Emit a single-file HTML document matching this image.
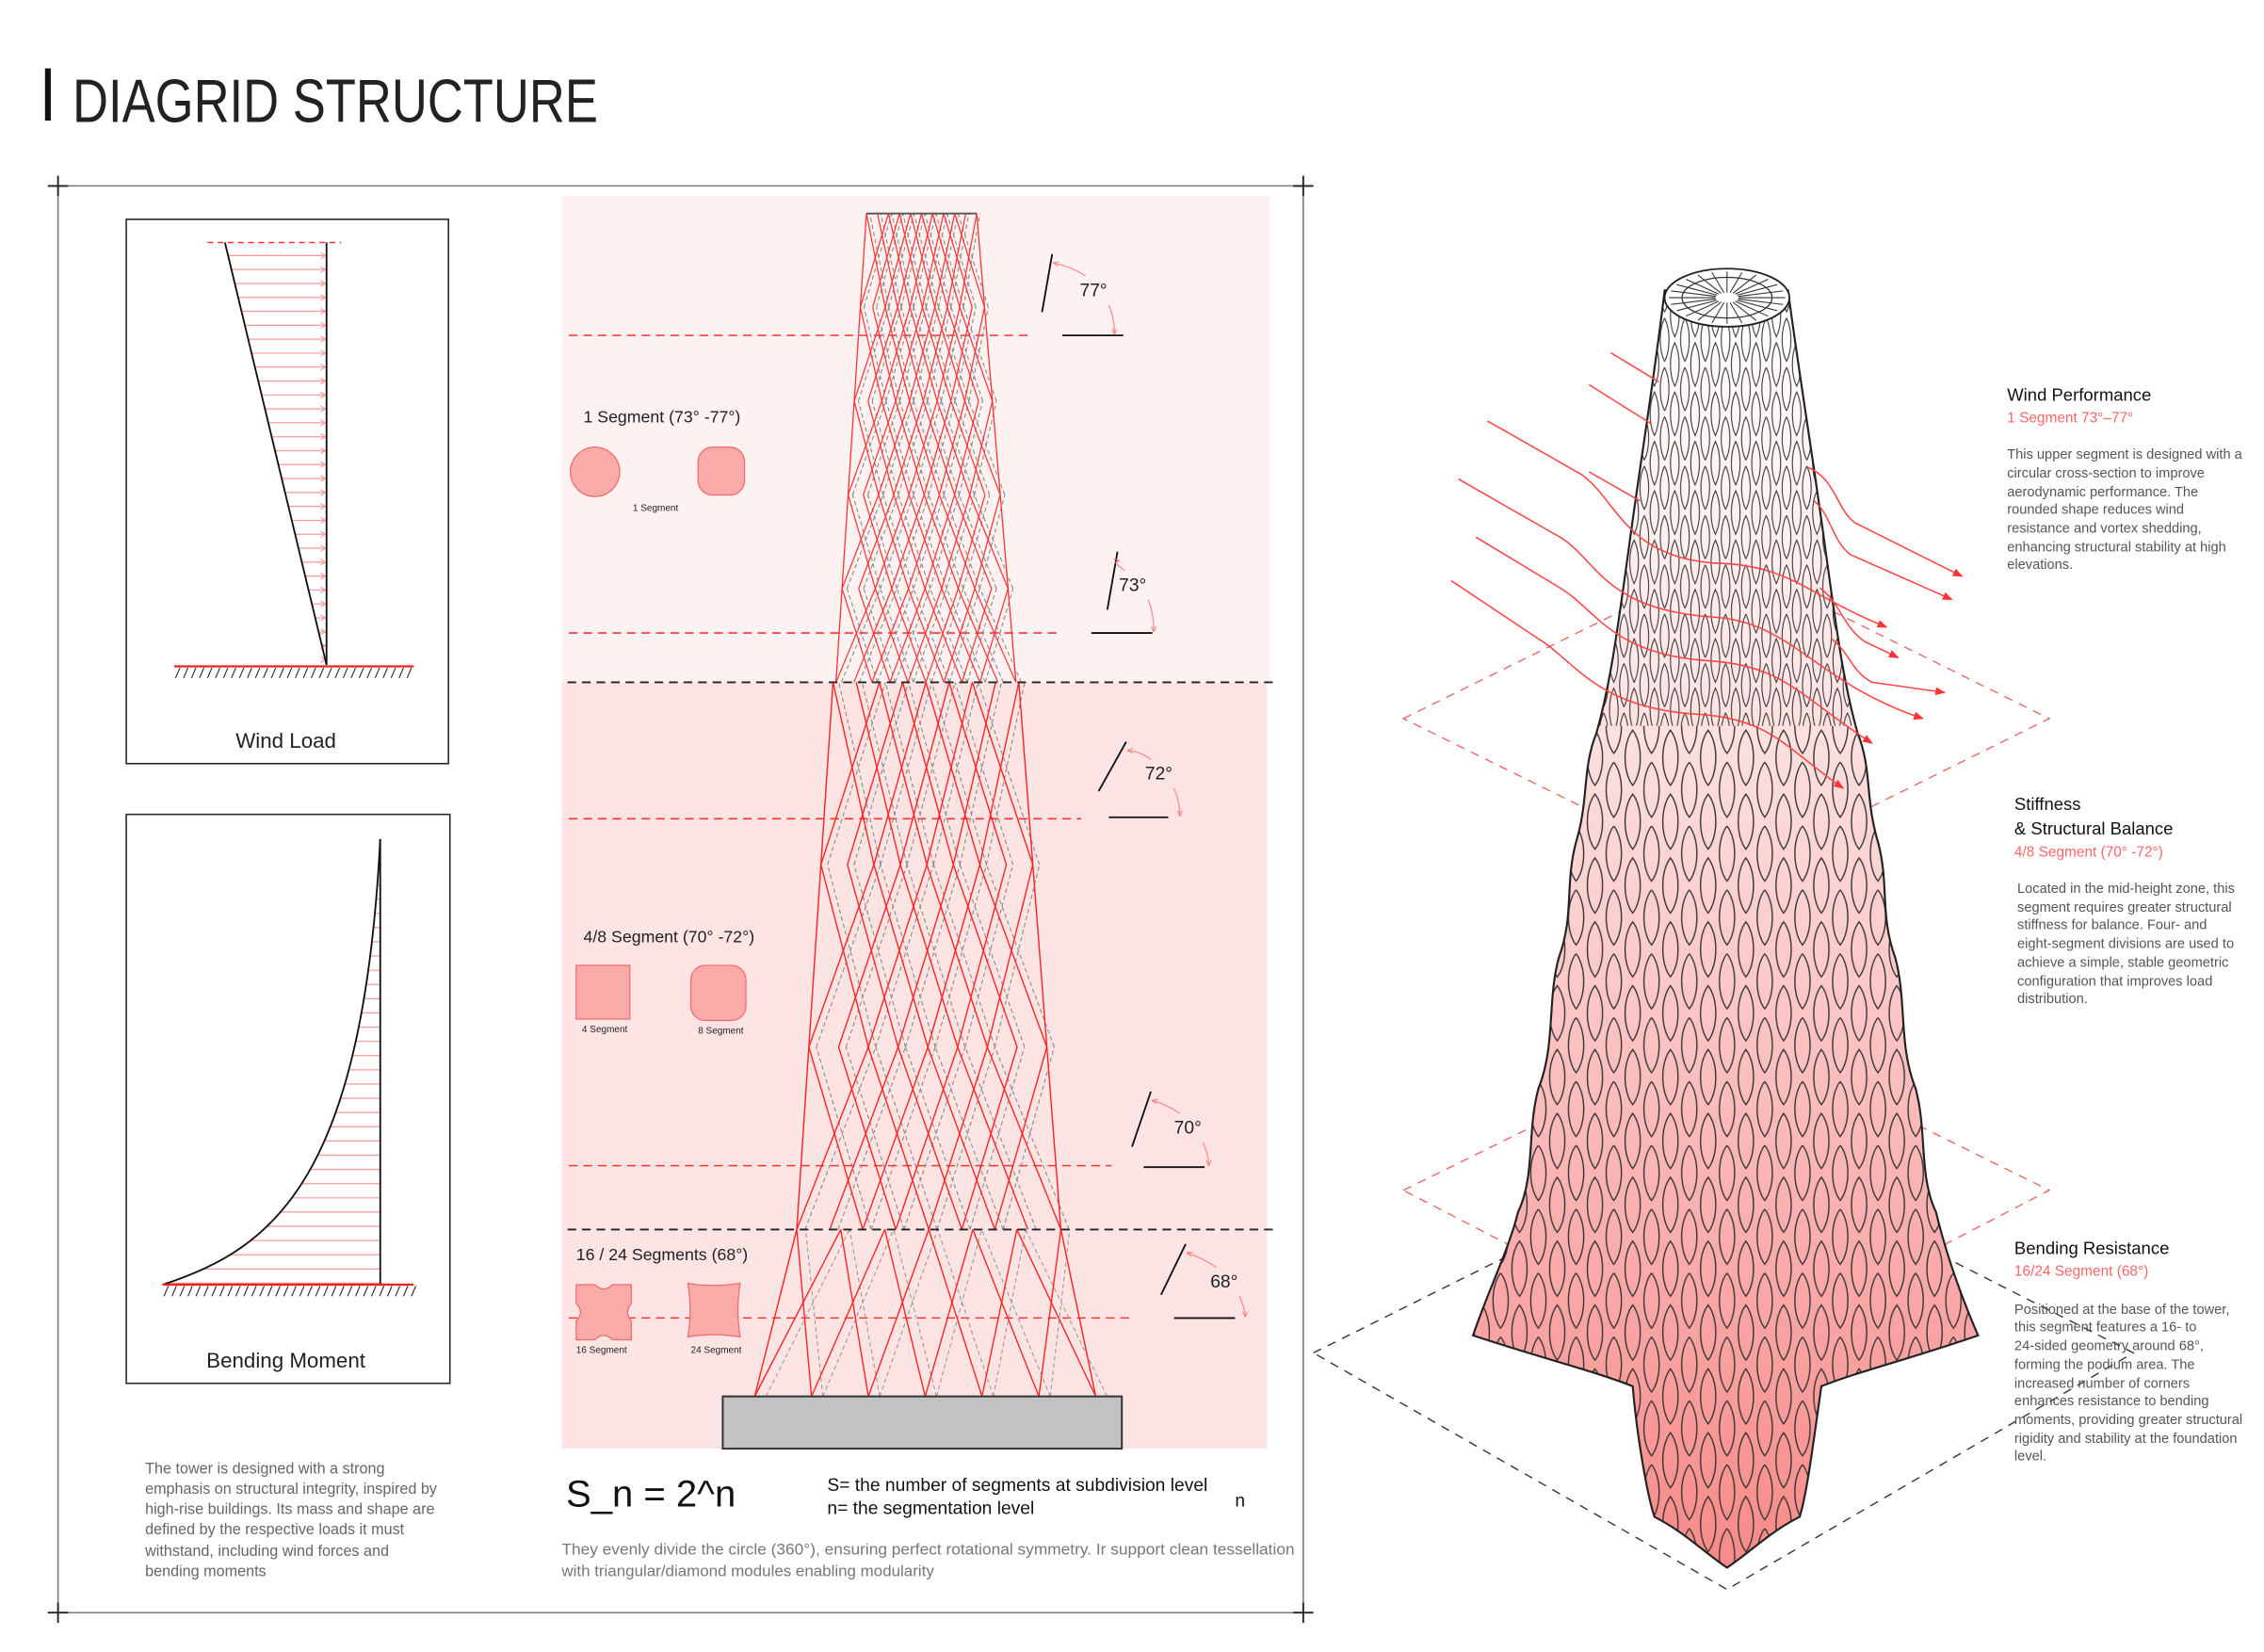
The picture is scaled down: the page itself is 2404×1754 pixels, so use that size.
<!DOCTYPE html>
<html><head><meta charset="utf-8"><style>
html,body{margin:0;padding:0;background:#fff;}
svg{display:block;}
text{font-family:"Liberation Sans",sans-serif;}
.n{font-family:"Liberation Sans Narrow","Liberation Sans",sans-serif;}
</style></head><body>
<svg id="s" width="2404" height="1754" viewBox="0 0 1560 1138" xmlns="http://www.w3.org/2000/svg">
<defs>
<marker id="ar" viewBox="0 0 10 10" refX="9" refY="5" markerWidth="7" markerHeight="7" orient="auto"><path d="M0,1 L10,5 L0,9 Z" fill="#f33"/></marker>
<marker id="pa" viewBox="0 0 10 10" refX="9" refY="5" markerWidth="5" markerHeight="5" orient="auto"><path d="M0,1 L10,5 L0,9" fill="none" stroke="#f77" stroke-width="1.5"/></marker>
<linearGradient id="tg" x1="0" y1="0" x2="0" y2="1">
<stop offset="0" stop-color="#ffffff"/><stop offset="0.3" stop-color="#fde6e6"/><stop offset="0.65" stop-color="#fbbaba"/><stop offset="1" stop-color="#f78a88"/></linearGradient>
<pattern id="lat1" patternUnits="userSpaceOnUse" width="14" height="34" x="1147" y="200">
<path d="M7,2 C11,10 11,24 7,32 C3,24 3,10 7,2Z M0,-15 C4,-7 4,7 0,15 M14,-15 C10,-7 10,7 14,15 M0,19 C4,27 4,41 0,49 M14,19 C10,27 10,41 14,49" fill="none" stroke="#333" stroke-width="0.7"/></pattern>
<pattern id="lat2" patternUnits="userSpaceOnUse" width="26" height="44" x="1060" y="500">
<path d="M13,3 C20,12 20,32 13,41 C6,32 6,12 13,3Z M0,-19 C7,-10 7,10 0,19 C-7,10 -7,-10 0,-19Z M26,-19 C33,-10 33,10 26,19 C19,10 19,-10 26,-19Z M0,25 C7,34 7,54 0,63 M26,25 C19,34 19,54 26,63" fill="none" stroke="#333" stroke-width="0.9"/></pattern>
<clipPath id="tc"><path id="tp" d="M1147,200 C1140,260 1130,320 1122,380 C1115,430 1110,470 1100,505 C1090,530 1095,550 1086,580 C1078,610 1085,630 1074,660 C1066,690 1072,720 1060,750 C1052,780 1058,810 1046,835 C1040,860 1025,890 1015,920 C1060,935 1100,945 1125,955 C1128,990 1135,1030 1140,1045 C1160,1055 1175,1070 1190,1080 C1205,1070 1220,1055 1240,1045 C1245,1030 1250,990 1255,955 C1280,945 1320,935 1363,920 C1350,890 1340,860 1334,835 C1322,810 1328,780 1320,750 C1308,720 1314,690 1306,660 C1295,630 1302,610 1294,580 C1285,550 1290,530 1280,505 C1270,470 1265,430 1258,380 C1250,320 1240,260 1232,200 Z"/></clipPath>
</defs>

<rect x="31" y="47" width="4" height="36" fill="#111"/>
<text x="50" y="84" font-size="42" fill="#222" class="n" textLength="362" lengthAdjust="spacingAndGlyphs">DIAGRID STRUCTURE</text>

<g stroke="#777" stroke-width="1" fill="none">
<line x1="33" y1="128" x2="905" y2="128"/><line x1="33" y1="1111" x2="905" y2="1111"/>
<line x1="40" y1="121" x2="40" y2="1118"/><line x1="898" y1="121" x2="898" y2="1118"/>
</g>
<g stroke="#222" stroke-width="1.2"><line x1="40" y1="121" x2="40" y2="135"/><line x1="33" y1="128" x2="47" y2="128"/><line x1="898" y1="121" x2="898" y2="135"/><line x1="891" y1="128" x2="905" y2="128"/><line x1="40" y1="1104" x2="40" y2="1118"/><line x1="33" y1="1111" x2="47" y2="1111"/><line x1="898" y1="1104" x2="898" y2="1118"/><line x1="891" y1="1111" x2="905" y2="1111"/></g>

<rect x="87" y="151" width="222" height="375" fill="none" stroke="#222" stroke-width="1"/>
<line x1="143" y1="167" x2="235" y2="167" stroke="#f33" stroke-dasharray="4,3"/>
<g id="wl" stroke="#f99" stroke-width="0.8"></g>
<line x1="155" y1="167" x2="225" y2="458" stroke="#111" stroke-width="1.2"/>
<line x1="225" y1="167" x2="225" y2="458" stroke="#111" stroke-width="1.2"/>
<line x1="120" y1="459" x2="285" y2="459" stroke="#e22" stroke-width="1.5"/>
<g id="h1" stroke="#222" stroke-width="0.7"></g>
<text x="197" y="515" font-size="14.5" text-anchor="middle" fill="#222">Wind Load</text>

<rect x="87" y="561" width="223" height="392" fill="none" stroke="#222" stroke-width="1"/>
<g id="bm" stroke="#f99" stroke-width="0.8"></g>
<path d="M112,885 C190,860 250,810 262,578" fill="none" stroke="#111" stroke-width="1.2"/>
<line x1="262" y1="578" x2="262" y2="885" stroke="#111" stroke-width="1.2"/>
<line x1="112" y1="885" x2="285" y2="885" stroke="#e22" stroke-width="1.5"/>
<g id="h2" stroke="#222" stroke-width="0.7"></g>
<text x="197" y="942" font-size="14.5" text-anchor="middle" fill="#222">Bending Moment</text>

<g font-size="10.5" fill="#666" class="n">
<text x="100" y="1015">The tower is designed with a strong</text>
<text x="100" y="1029">emphasis on structural integrity, inspired by</text>
<text x="100" y="1043">high-rise buildings. Its mass and shape are</text>
<text x="100" y="1057">defined by the respective loads it must</text>
<text x="100" y="1072">withstand, including wind forces and</text>
<text x="100" y="1086">bending moments</text>
</g>

<rect x="387" y="135" width="488" height="335" fill="#fdf1f1"/>
<rect x="387" y="470" width="486" height="528" fill="#fde4e4"/>
<g stroke="#f33" stroke-width="1" stroke-dasharray="6,4">
<line x1="392" y1="231" x2="712" y2="231"/><line x1="392" y1="436" x2="730" y2="436"/>
<line x1="392" y1="564" x2="745" y2="564"/><line x1="392" y1="803" x2="766" y2="803"/>
<line x1="392" y1="908" x2="780" y2="908"/>
</g>
<g id="grid" fill="none"></g>
<g stroke="#222" stroke-width="1.2" stroke-dasharray="6,4">
<line x1="391" y1="470" x2="880" y2="470"/><line x1="391" y1="847" x2="880" y2="847"/>
</g>
<rect x="498" y="962" width="275" height="36" fill="#c2c2c2" stroke="#333" stroke-width="1.3"/>

<g id="ang"></g>

<g fill="#222">
<text x="402" y="291" font-size="11.5">1 Segment (73° -77°)</text>
<text x="402" y="649" font-size="11.5">4/8 Segment (70° -72°)</text>
<text x="397" y="868" font-size="11.5">16 / 24 Segments (68°)</text>
<text x="436" y="352" font-size="6.5">1 Segment</text>
<text x="401" y="711" font-size="6.5">4 Segment</text>
<text x="481" y="712" font-size="6.5">8 Segment</text>
<text x="397" y="932" font-size="6.5">16 Segment</text>
<text x="476" y="932" font-size="6.5">24 Segment</text>
</g>
<g fill="#fbaaaa" stroke="#f06a6a" stroke-width="0.8">
<ellipse cx="410" cy="325" rx="17" ry="17"/>
<rect x="481" y="308" width="32" height="33" rx="10"/>
<rect x="397" y="665" width="37" height="37"/>
<rect x="476" y="665" width="38" height="38" rx="10"/>
<path d="M397,885 L410,885 Q416,891 422,885 L435,885 L435,898 Q430,904 435,910 L435,923 L422,923 Q416,917 410,923 L397,923 L397,910 Q403,904 397,898 Z"/>
<path d="M474,884 Q490,887 510,884 Q507,903 510,921 Q492,918 474,921 Q477,903 474,884 Z"/>
</g>

<text x="390" y="1038" font-size="26" fill="#111" class="n">S_n = 2^n</text>
<g font-size="12.5" fill="#111" class="n">
<text x="570" y="1027">S= the number of segments at subdivision level</text>
<text x="570" y="1043">n= the segmentation level</text>
<text x="851" y="1038">n</text>
</g>
<g font-size="11" fill="#777" class="n">
<text x="387" y="1071" textLength="505" lengthAdjust="spacingAndGlyphs">They evenly divide the circle (360°), ensuring perfect rotational symmetry. Ir support clean tessellation</text>
<text x="387" y="1086">with triangular/diamond modules enabling modularity</text>
</g>

<g fill="none" stroke-width="0.9" stroke-dasharray="6,5">
<path d="M905,932 L1190,790 L1470,932 L1190,1095 Z" stroke="#333"/>
<path d="M967,820 L1190,710 L1412,820 L1190,935 Z" stroke="#e66"/>
<path d="M967,495 L1190,385 L1412,495 L1190,605 Z" stroke="#e66"/>
</g>

<use href="#tp" fill="url(#tg)"/>
<g clip-path="url(#tc)">
<rect x="1000" y="200" width="400" height="300" fill="url(#lat1)"/>
<rect x="1000" y="500" width="400" height="600" fill="url(#lat2)"/>
</g>
<use href="#tp" fill="none" stroke="#222" stroke-width="1.4"/>
<ellipse cx="1190" cy="205" rx="43" ry="20" fill="#fff" stroke="#222" stroke-width="1.2"/>
<g id="cap" stroke="#333" stroke-width="0.7" fill="none"></g>
<ellipse cx="1190" cy="205" rx="31" ry="14" fill="none" stroke="#333" stroke-width="0.8"/>

<g fill="none" stroke="#f44" stroke-width="1">
<path d="M1110,243 L1143,263"/><path d="M1095,265 L1138,292"/><path d="M1095,325 L1130,345"/>
<path d="M1025,290 L1090,327 C1115,345 1120,385 1185,388 C1235,390 1245,410 1300,432" marker-end="url(#ar)"/>
<path d="M1005,330 L1075,370 C1100,385 1105,420 1180,425 C1235,428 1250,470 1325,495" marker-end="url(#ar)"/>
<path d="M1017,370 L1075,405 C1100,420 1110,450 1175,455 C1230,458 1240,480 1290,512" marker-end="url(#ar)"/>
<path d="M1000,400 L1060,440 C1085,455 1100,488 1170,492 C1220,495 1230,515 1270,543" marker-end="url(#ar)"/>
<path d="M1246,322 C1265,330 1265,350 1278,360 L1352,397" marker-end="url(#ar)"/>
<path d="M1250,345 C1262,355 1262,372 1275,382 L1345,413" marker-end="url(#ar)"/>
<path d="M1254,405 C1268,415 1270,432 1285,442 L1308,453" marker-end="url(#ar)"/>
<path d="M1262,440 C1275,450 1275,462 1290,470 L1340,477" marker-end="url(#ar)"/>
</g>

<g font-size="9.5" fill="#555">
<text x="1383" y="276" font-size="12" fill="#111">Wind Performance</text>
<text x="1383" y="291" font-size="10" fill="#f66">1 Segment 73°–77°</text>
<text x="1383" y="316">This upper segment is designed with a</text>
<text x="1383" y="329">circular cross-section to improve</text>
<text x="1383" y="342">aerodynamic performance. The</text>
<text x="1383" y="354">rounded shape reduces wind</text>
<text x="1383" y="367">resistance and vortex shedding,</text>
<text x="1383" y="380">enhancing structural stability at high</text>
<text x="1383" y="392">elevations.</text>
<text x="1388" y="558" font-size="12" fill="#111">Stiffness</text>
<text x="1388" y="575" font-size="12" fill="#111">&amp; Structural Balance</text>
<text x="1388" y="590" font-size="10" fill="#f66">4/8 Segment (70° -72°)</text>
<text x="1390" y="615">Located in the mid-height zone, this</text>
<text x="1390" y="628">segment requires greater structural</text>
<text x="1390" y="640">stiffness for balance. Four- and</text>
<text x="1390" y="653">eight-segment divisions are used to</text>
<text x="1390" y="666">achieve a simple, stable geometric</text>
<text x="1390" y="679">configuration that improves load</text>
<text x="1390" y="691">distribution.</text>
<text x="1388" y="864" font-size="12" fill="#111">Bending Resistance</text>
<text x="1388" y="879" font-size="10" fill="#f66">16/24 Segment (68°)</text>
<text x="1388" y="905">Positioned at the base of the tower,</text>
<text x="1388" y="917">this segment features a 16- to</text>
<text x="1388" y="930">24-sided geometry around 68°,</text>
<text x="1388" y="943">forming the podium area. The</text>
<text x="1388" y="956">increased number of corners</text>
<text x="1388" y="968">enhances resistance to bending</text>
<text x="1388" y="981">moments, providing greater structural</text>
<text x="1388" y="994">rigidity and stability at the foundation</text>
<text x="1388" y="1006">level.</text>
</g>
</svg>
<script>
(function(){
var NS="http://www.w3.org/2000/svg";
function el(p,t,a){var e=document.createElementNS(NS,t);for(var k in a)e.setAttribute(k,a[k]);p.appendChild(e);return e;}
function g(id){return document.getElementById(id);}
var wl=g("wl");
for(var y=176;y<455;y+=9.6){var x=155+(y-167)*70/291;el(wl,"line",{x1:x,y1:y,x2:224,y2:y});el(wl,"path",{d:"M221,"+(y-2)+" L224,"+y+" L221,"+(y+2),fill:"none"});}
var bm=g("bm");
function bx(t){var a=1-t;return {x:a*a*a*112+3*a*a*t*190+3*a*t*t*250+t*t*t*262,y:a*a*a*885+3*a*a*t*860+3*a*t*t*810+t*t*t*578};}
for(var y=590;y<884;y+=9.8){var best=0,bd=1e9;for(var t=0;t<=1;t+=0.002){var p=bx(t);var d=Math.abs(p.y-y);if(d<bd){bd=d;best=p.x;}}el(bm,"line",{x1:best,y1:y,x2:262,y2:y});}
function hatch(id,x0,x1,y){var h=g(id);for(var x=x0;x<x1;x+=5.5)el(h,"line",{x1:x+3,y1:y+1,x2:x,y2:y+8});}
hatch("h1",121,285,459);hatch("h2",113,285,885);
var gr=g("grid");
function seg(yt,yb,xtl,xtr,xbl,xbr,n,k,col,w,dash,off){
 for(var i=0;i<=n;i++){for(var s=-1;s<=1;s+=2){var j=i+s*k;if(j<0||j>n)continue;
  var xb=xbl+(xbr-xbl)*(i+off)/n, xt=xtl+(xtr-xtl)*(j+off)/n;
  var a={x1:xb,y1:yb,x2:xt,y2:yt,stroke:col,"stroke-width":w};if(dash)a["stroke-dasharray"]=dash;el(gr,"line",a);}}
 el(gr,"line",{x1:xbl,y1:yb,x2:xtl,y2:yt,stroke:col,"stroke-width":w});el(gr,"line",{x1:xbr,y1:yb,x2:xtr,y2:yt,stroke:col,"stroke-width":w});
}
function multi(yt,yb,xtl,xtr,xbl,xbr,n,k,reps,col,w,dash,off){
 for(var r=0;r<reps;r++){var y0=yt+(yb-yt)*r/reps,y1=yt+(yb-yt)*(r+1)/reps;
  var f0=r/reps,f1=(r+1)/reps;
  seg(y0,y1,xtl+(xbl-xtl)*f0,xtr+(xbr-xtr)*f0,xtl+(xbl-xtl)*f1,xtr+(xbr-xtr)*f1,n,k,col,w,dash,off);}
}
multi(147,470,597,673,576,700,10,2,5,"#888",0.7,"3,2",0.3);
multi(147,470,597,673,576,700,10,2,5,"#f33",0.8,null,0);
multi(470,847,574,702,549,731,8,2,3,"#888",0.7,"3,2",0.25);
multi(470,847,574,702,549,731,8,2,3,"#f22",0.9,null,0);
seg(847,962,549,731,520,755,6,1,"#999",0.7,"3,2",0.2);
seg(847,962,549,731,520,755,6,1,"#f22",0.9,null,0);
el(gr,"line",{x1:597,y1:147,x2:673,y2:147,stroke:"#555","stroke-width":1.2});
var an=g("ang");
[[725,175,718,215,732,774,231,"77°",744,204],[770,380,763,420,752,794,436,"73°",771,407],
 [776,511,757,545,764,805,563,"72°",789,537],[793,752,780,790,788,830,804,"70°",809,781],
 [817,857,800,892,809,851,908,"68°",834,887]].forEach(function(a){
 el(an,"line",{x1:a[0],y1:a[1],x2:a[2],y2:a[3],stroke:"#111","stroke-width":1.2});
 el(an,"line",{x1:a[4],y1:a[6],x2:a[5],y2:a[6],stroke:"#111","stroke-width":1.2});
 var t=el(an,"text",{x:a[8],y:a[9],"font-size":12.5,fill:"#222"});t.textContent=a[7];
 el(an,"path",{d:"M"+(a[8]+4)+","+(a[9]-14)+" Q"+(a[8]-5)+","+(a[9]-20)+" "+(a[0]+1)+","+(a[1]+6),fill:"none",stroke:"#f88","stroke-width":0.8,"marker-end":"url(#pa)"});
 el(an,"path",{d:"M"+(a[8]+20)+","+(a[9]+6)+" Q"+(a[8]+24)+","+(a[9]+15)+" "+(a[8]+24)+","+(a[6]-1),fill:"none",stroke:"#f88","stroke-width":0.8,"marker-end":"url(#pa)"});
});
var cp=g("cap");
for(var i=0;i<24;i++){var th=i*Math.PI/12;el(cp,"line",{x1:1190+8*Math.cos(th),y1:205+3.5*Math.sin(th),x2:1190+40*Math.cos(th),y2:205+18*Math.sin(th)});}
})();
</script>
</body></html>
